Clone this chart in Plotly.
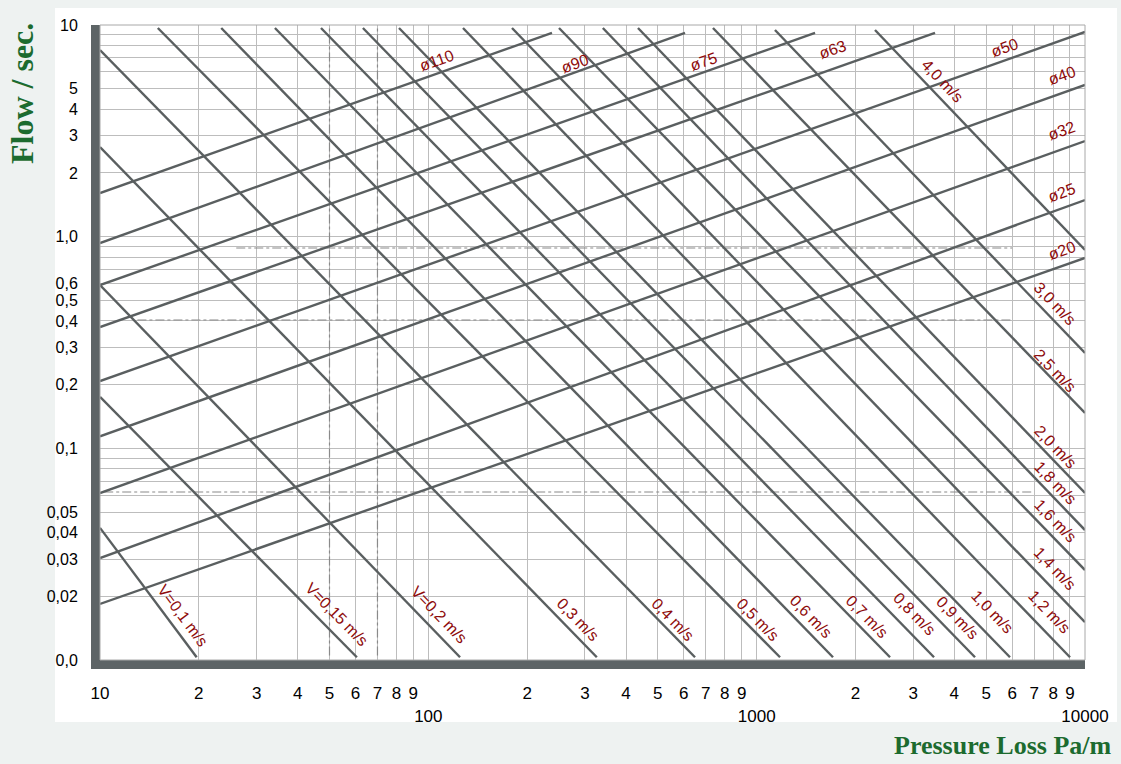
import math
import plotly.graph_objects as go

# ---------------- data ----------------
# Pipe-diameter lines (rising): start / end points (Pressure loss Pa/m, Flow l/s)
diam_names = ["ø110", "ø90", "ø75", "ø63", "ø50", "ø40", "ø32", "ø25", "ø20"]
diam_x0 = [10, 10, 10, 10, 10, 10, 10, 10, 10]
diam_y0 = [1.608, 0.933, 0.591, 0.374, 0.208, 0.114, 0.0615, 0.0303, 0.0184]
diam_x1 = [238, 605, 1506, 3493, 10000, 10000, 10000, 10000, 10000]
diam_y1 = [9.17, 9.17, 9.17, 9.17, 9.27, 5.21, 2.83, 1.49, 0.793]
diam_label_x = [106, 280, 691, 1708, 5706, 8511, 8511, 8511, 8511]
diam_label_y = [6.83, 6.61, 6.69, 7.62, 7.79, 5.80, 3.16, 1.61, 0.865]

# Velocity lines (falling)
vel_names = ["V=0,1 m/s", "V=0,15 m/s", "V=0,2 m/s", "0,3 m/s", "0,4 m/s",
             "0,5 m/s", "0,6 m/s", "0,7 m/s", "0,8 m/s", "0,9 m/s", "1,0 m/s",
             "1,2 m/s", "1,4 m/s", "1,6 m/s", "1,8 m/s", "2,0 m/s", "2,5 m/s",
             "3,0 m/s", "4,0 m/s"]
vel_x0 = [10, 10, 10, 10, 10, 15.0, 23.4, 34.1, 47.1, 63.2, 81.4, 127.5,
          179.8, 250, 340, 435, 736, 1137, 2293]
vel_y0 = [0.0421, 0.175, 0.591, 2.65, 7.62, 9.68, 9.68, 9.68, 9.68, 9.68,
          9.68, 9.68, 9.68, 9.68, 9.68, 9.68, 9.68, 9.47, 9.47]
vel_x1 = [19.7, 60.6, 124.9, 326, 649, 1178, 1708, 2548, 3469, 4624, 5909,
          9002, 10000, 10000, 10000, 10000, 10000, 10000, 10000]
vel_y1 = [0.0103, 0.0103, 0.0103, 0.0103, 0.0103, 0.0103, 0.0103, 0.0103,
          0.0103, 0.0103, 0.0103, 0.0103, 0.0151, 0.0266, 0.0411, 0.0615,
          0.147, 0.282, 0.865]
vel_label_x = [17.9, 52.7, 107.8, 285.6, 556, 1009, 1464, 2168, 3013, 4074,
               5210, 7762, 8101, 8101, 8101, 8101, 8101, 8101, 3668]
vel_label_y = [0.0163, 0.0164, 0.0164, 0.0156, 0.0156, 0.0156, 0.0161,
               0.0161, 0.0165, 0.0158, 0.0169, 0.0169, 0.0272, 0.0454,
               0.0686, 0.1015, 0.234, 0.486, 5.44]

# construction (dash-dot) guide lines
guide_x = [50, 70]
guide_y = [0.884, 0.404, 0.0622]
guide_y_from = [26, 13, 10.3]
guide_y_to = [6000, 6000, 7000]

# axis ticks
x_tickvals = [m * 10 ** e for e in range(1, 4) for m in range(1, 10)] + [10000]
x_ticktext = ["10", "2", "3", "4", "5", "6", "7", "8", "9",
              "<br>100", "2", "3", "4", "5", "6", "7", "8", "9",
              "<br>1000", "2", "3", "4", "5", "6", "7", "8", "9",
              "<br>10000"]
y_tickvals = [round(m * 10 ** e, 4) for e in range(-2, 1) for m in range(1, 10)] + [10]
y_labels = {0.01: "0,0", 0.02: "0,02", 0.03: "0,03", 0.04: "0,04", 0.05: "0,05",
            0.1: "0,1", 0.2: "0,2", 0.3: "0,3", 0.4: "0,4", 0.5: "0,5",
            0.6: "0,6", 1: "1,0", 2: "2", 3: "3", 4: "4", 5: "5", 10: "10"}
y_ticktext = [y_labels.get(v, "") for v in y_tickvals]

# ---------------- figure ----------------
W, H = 1121, 764
ML, MR, MT, MB = 100, 36, 25, 104
PW, PH = W - ML - MR, H - MT - MB
XPD, YPD = PW / 3.0, PH / 3.0  # pixels per decade

LINE_C = "#5a5f60"
LABEL_C = "#8e0b0b"
GREEN = "#1c6b2f"

fig = go.Figure()

for gx in guide_x:
    fig.add_trace(go.Scatter(x=[gx, gx], y=[0.0105, 9.8], mode="lines",
                             line=dict(color="#8a8a8a", width=1.2, dash="dashdot"),
                             hoverinfo="skip", showlegend=False))
for gy, a, b in zip(guide_y, guide_y_from, guide_y_to):
    fig.add_trace(go.Scatter(x=[a, b], y=[gy, gy], mode="lines",
                             line=dict(color="#8a8a8a", width=1.2, dash="dashdot"),
                             hoverinfo="skip", showlegend=False))

for x0, y0, x1, y1 in zip(diam_x0, diam_y0, diam_x1, diam_y1):
    fig.add_trace(go.Scatter(x=[x0, x1], y=[y0, y1], mode="lines",
                             line=dict(color=LINE_C, width=2.4),
                             hoverinfo="skip", showlegend=False))
for x0, y0, x1, y1 in zip(vel_x0, vel_y0, vel_x1, vel_y1):
    fig.add_trace(go.Scatter(x=[x0, x1], y=[y0, y1], mode="lines",
                             line=dict(color=LINE_C, width=2.4),
                             hoverinfo="skip", showlegend=False))


def pix_angle(x0, y0, x1, y1):
    dx = (math.log10(x1) - math.log10(x0)) * XPD
    dy = (math.log10(y1) - math.log10(y0)) * YPD
    return -math.degrees(math.atan2(dy, dx))


LABEL_FONT = dict(family="Liberation Sans", size=16, color=LABEL_C)
annotations = []
for name, lx, ly, x0, y0, x1, y1 in zip(diam_names, diam_label_x, diam_label_y,
                                        diam_x0, diam_y0, diam_x1, diam_y1):
    annotations.append(dict(x=math.log10(lx), y=math.log10(ly), xref="x", yref="y",
                            text=name, showarrow=False, xanchor="center", yanchor="middle",
                            textangle=pix_angle(x0, y0, x1, y1), font=LABEL_FONT))
for name, lx, ly, x0, y0, x1, y1 in zip(vel_names, vel_label_x, vel_label_y,
                                        vel_x0, vel_y0, vel_x1, vel_y1):
    annotations.append(dict(x=math.log10(lx), y=math.log10(ly), xref="x", yref="y",
                            text=name, showarrow=False, xanchor="center", yanchor="middle",
                            textangle=pix_angle(x0, y0, x1, y1), font=LABEL_FONT))

annotations.append(dict(x=(22 - ML) / PW, y=(H - MB - 94) / PH, xref="paper", yref="paper",
                        text="<b>Flow / sec.</b>", showarrow=False, textangle=-90,
                        xanchor="center", yanchor="middle",
                        font=dict(family="Liberation Serif", size=32, color=GREEN)))
annotations.append(dict(x=(1002 - ML) / PW, y=(H - MB - 745) / PH, xref="paper", yref="paper",
                        text="<b>Pressure Loss Pa/m</b>", showarrow=False,
                        xanchor="center", yanchor="middle",
                        font=dict(family="Liberation Serif", size=26, color=GREEN)))

shapes = [
    dict(type="rect", xref="paper", yref="paper", layer="below",
         x0=(55 - ML) / PW, x1=(1117 - ML) / PW,
         y0=(H - MB - 722) / PH, y1=(H - MB - 8) / PH,
         fillcolor="white", line=dict(width=0)),
    dict(type="rect", xref="paper", yref="paper", layer="above",
         x0=0, x1=1, y0=0, y1=1, line=dict(color="#a8a8a8", width=1)),
]

fig.update_layout(
    width=W, height=H, autosize=False,
    margin=dict(l=ML, r=MR, t=MT, b=MB, pad=0),
    paper_bgcolor="#eef2f1", plot_bgcolor="white",
    annotations=annotations, shapes=shapes, showlegend=False,
    font=dict(family="Liberation Sans", size=17, color="black"),
)
fig.update_xaxes(type="log", range=[1, 4], tickvals=x_tickvals, ticktext=x_ticktext,
                 tickangle=0,
                 showgrid=True, gridcolor="#bdbdbd", gridwidth=1,
                 showline=True, linecolor="#5d6466", linewidth=9,
                 ticks="", ticklabelstandoff=10, zeroline=False,
                 tickfont=dict(family="Liberation Sans", size=17, color="black"))
fig.update_yaxes(type="log", range=[-2, 1], tickvals=y_tickvals, ticktext=y_ticktext,
                 showgrid=True, gridcolor="#bdbdbd", gridwidth=1,
                 showline=True, linecolor="#5d6466", linewidth=9,
                 ticks="", ticklabelstandoff=10, zeroline=False,
                 tickfont=dict(family="Liberation Sans", size=16, color="black"))

fig.write_html("out.html", config={"displayModeBar": False},
               post_script="document.body.style.margin='0';")
